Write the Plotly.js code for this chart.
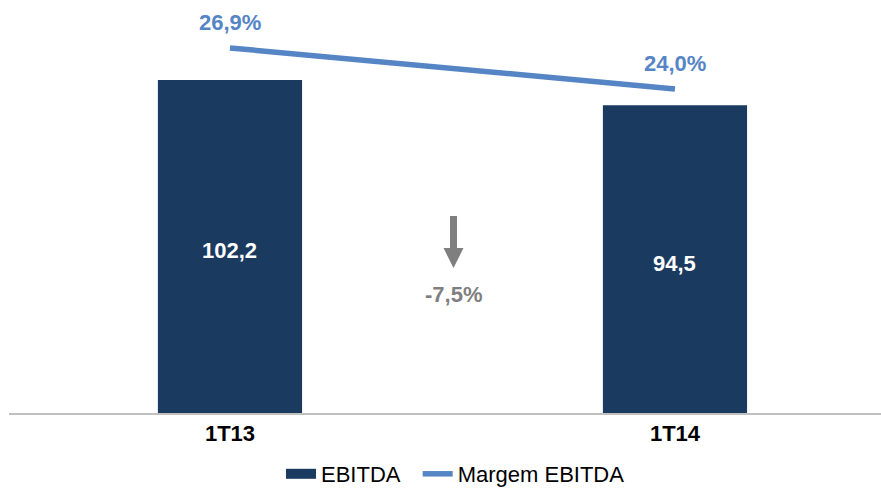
<!DOCTYPE html>
<html><head><meta charset="utf-8">
<script src="https://cdn.plot.ly/plotly-3.0.1.min.js"></script>
<style>html,body{margin:0;padding:0;background:#fff}#c{width:881px;height:488px}</style>
</head><body><div id="c"></div>
<script>
const categories = ['1T13', '1T14'];
const ebitda = [102.2, 94.5];
const ebitdaLabels = ['102,2', '94,5'];
const margem = [26.9, 24.0];
const margemLabels = ['26,9%', '24,0%'];
const variationLabel = '-7,5%';

const xIdx = categories.map((_, i) => i);
const font = 'Liberation Sans, Arial, sans-serif';
const navy = '#1b3a60';
const blue = '#5585c5';
const grey = '#7f7f7f';

// pixel -> paper helpers (plot area: x 9..881, y 0..413)
const px = v => (v - 9) / 872;
const py = v => (413 - v) / 413;

const traces = [
  {
    type: 'bar', name: 'EBITDA', x: xIdx, y: ebitda, width: 0.324,
    marker: {color: navy}, showlegend: false, hoverinfo: 'skip'
  },
  { // legend swatch for EBITDA (wide rectangle)
    type: 'scatter', mode: 'lines', name: 'EBITDA\u00a0\u00a0', x: [null], y: [null],
    line: {color: navy, width: 12}, hoverinfo: 'skip'
  },
  {
    type: 'scatter', mode: 'lines', name: 'Margem EBITDA', x: xIdx, y: margem, yaxis: 'y2',
    line: {color: blue, width: 5.5}, hoverinfo: 'skip'
  }
];

const annotations = margem.map((v, i) => ({
  xref: 'x', yref: 'y2', x: xIdx[i], y: v, yshift: 25, showarrow: false,
  text: '<b>' + margemLabels[i] + '</b>',
  font: {size: 22, family: font, color: blue}
}));
ebitda.forEach((v, i) => annotations.push({
  xref: 'x', yref: 'y', x: xIdx[i], y: v / 2, yshift: -4, showarrow: false,
  text: '<b>' + ebitdaLabels[i] + '</b>',
  font: {size: 22, family: font, color: '#ffffff'}
}));
annotations.push({
  xref: 'paper', yref: 'paper', x: px(453.5), y: py(295), yshift: -14,
  showarrow: false, text: '<b>' + variationLabel + '</b>',
  font: {size: 22, family: font, color: grey}
});

const layout = {
  width: 881, height: 488,
  margin: {l: 9, r: 0, t: 0, b: 75, autoexpand: false},
  paper_bgcolor: '#fff', plot_bgcolor: '#fff',
  showlegend: true,
  legend: {orientation: 'h', x: 0.517, xanchor: 'center', xref: 'container',
    y: py(474), yanchor: 'middle', yref: 'paper',
    font: {size: 22, family: font, color: '#000'}, traceorder: 'normal',
    itemwidth: 30, tracegroupgap: 0},
  xaxis: {
    range: [-0.4966, 1.463], tickvals: xIdx, ticktext: categories,
    showline: true, linecolor: '#c0c0c0', linewidth: 1.5, showgrid: false, zeroline: false,
    ticks: '', ticklabelstandoff: 0,
    tickfont: {size: 22, family: font, color: '#000', weight: 'bold'}, automargin: false
  },
  yaxis: {range: [0, 126.8], visible: false, showgrid: false, zeroline: false},
  yaxis2: {range: [1.09, 30.29], overlaying: 'y', visible: false, showgrid: false, zeroline: false},
  shapes: [
    { // down arrow
      type: 'path', xref: 'paper', yref: 'paper', fillcolor: grey, line: {width: 0},
      path: 'M' + px(450) + ',' + py(216) + ' L' + px(457) + ',' + py(216) +
            ' L' + px(457) + ',' + py(248) + ' L' + px(463.5) + ',' + py(248) +
            ' L' + px(453.5) + ',' + py(268) + ' L' + px(443.5) + ',' + py(248) +
            ' L' + px(450) + ',' + py(248) + ' Z'
    }
  ],
  annotations: annotations
};

Plotly.newPlot('c', traces, layout, {displayModeBar: false, staticPlot: true});
</script></body></html>
